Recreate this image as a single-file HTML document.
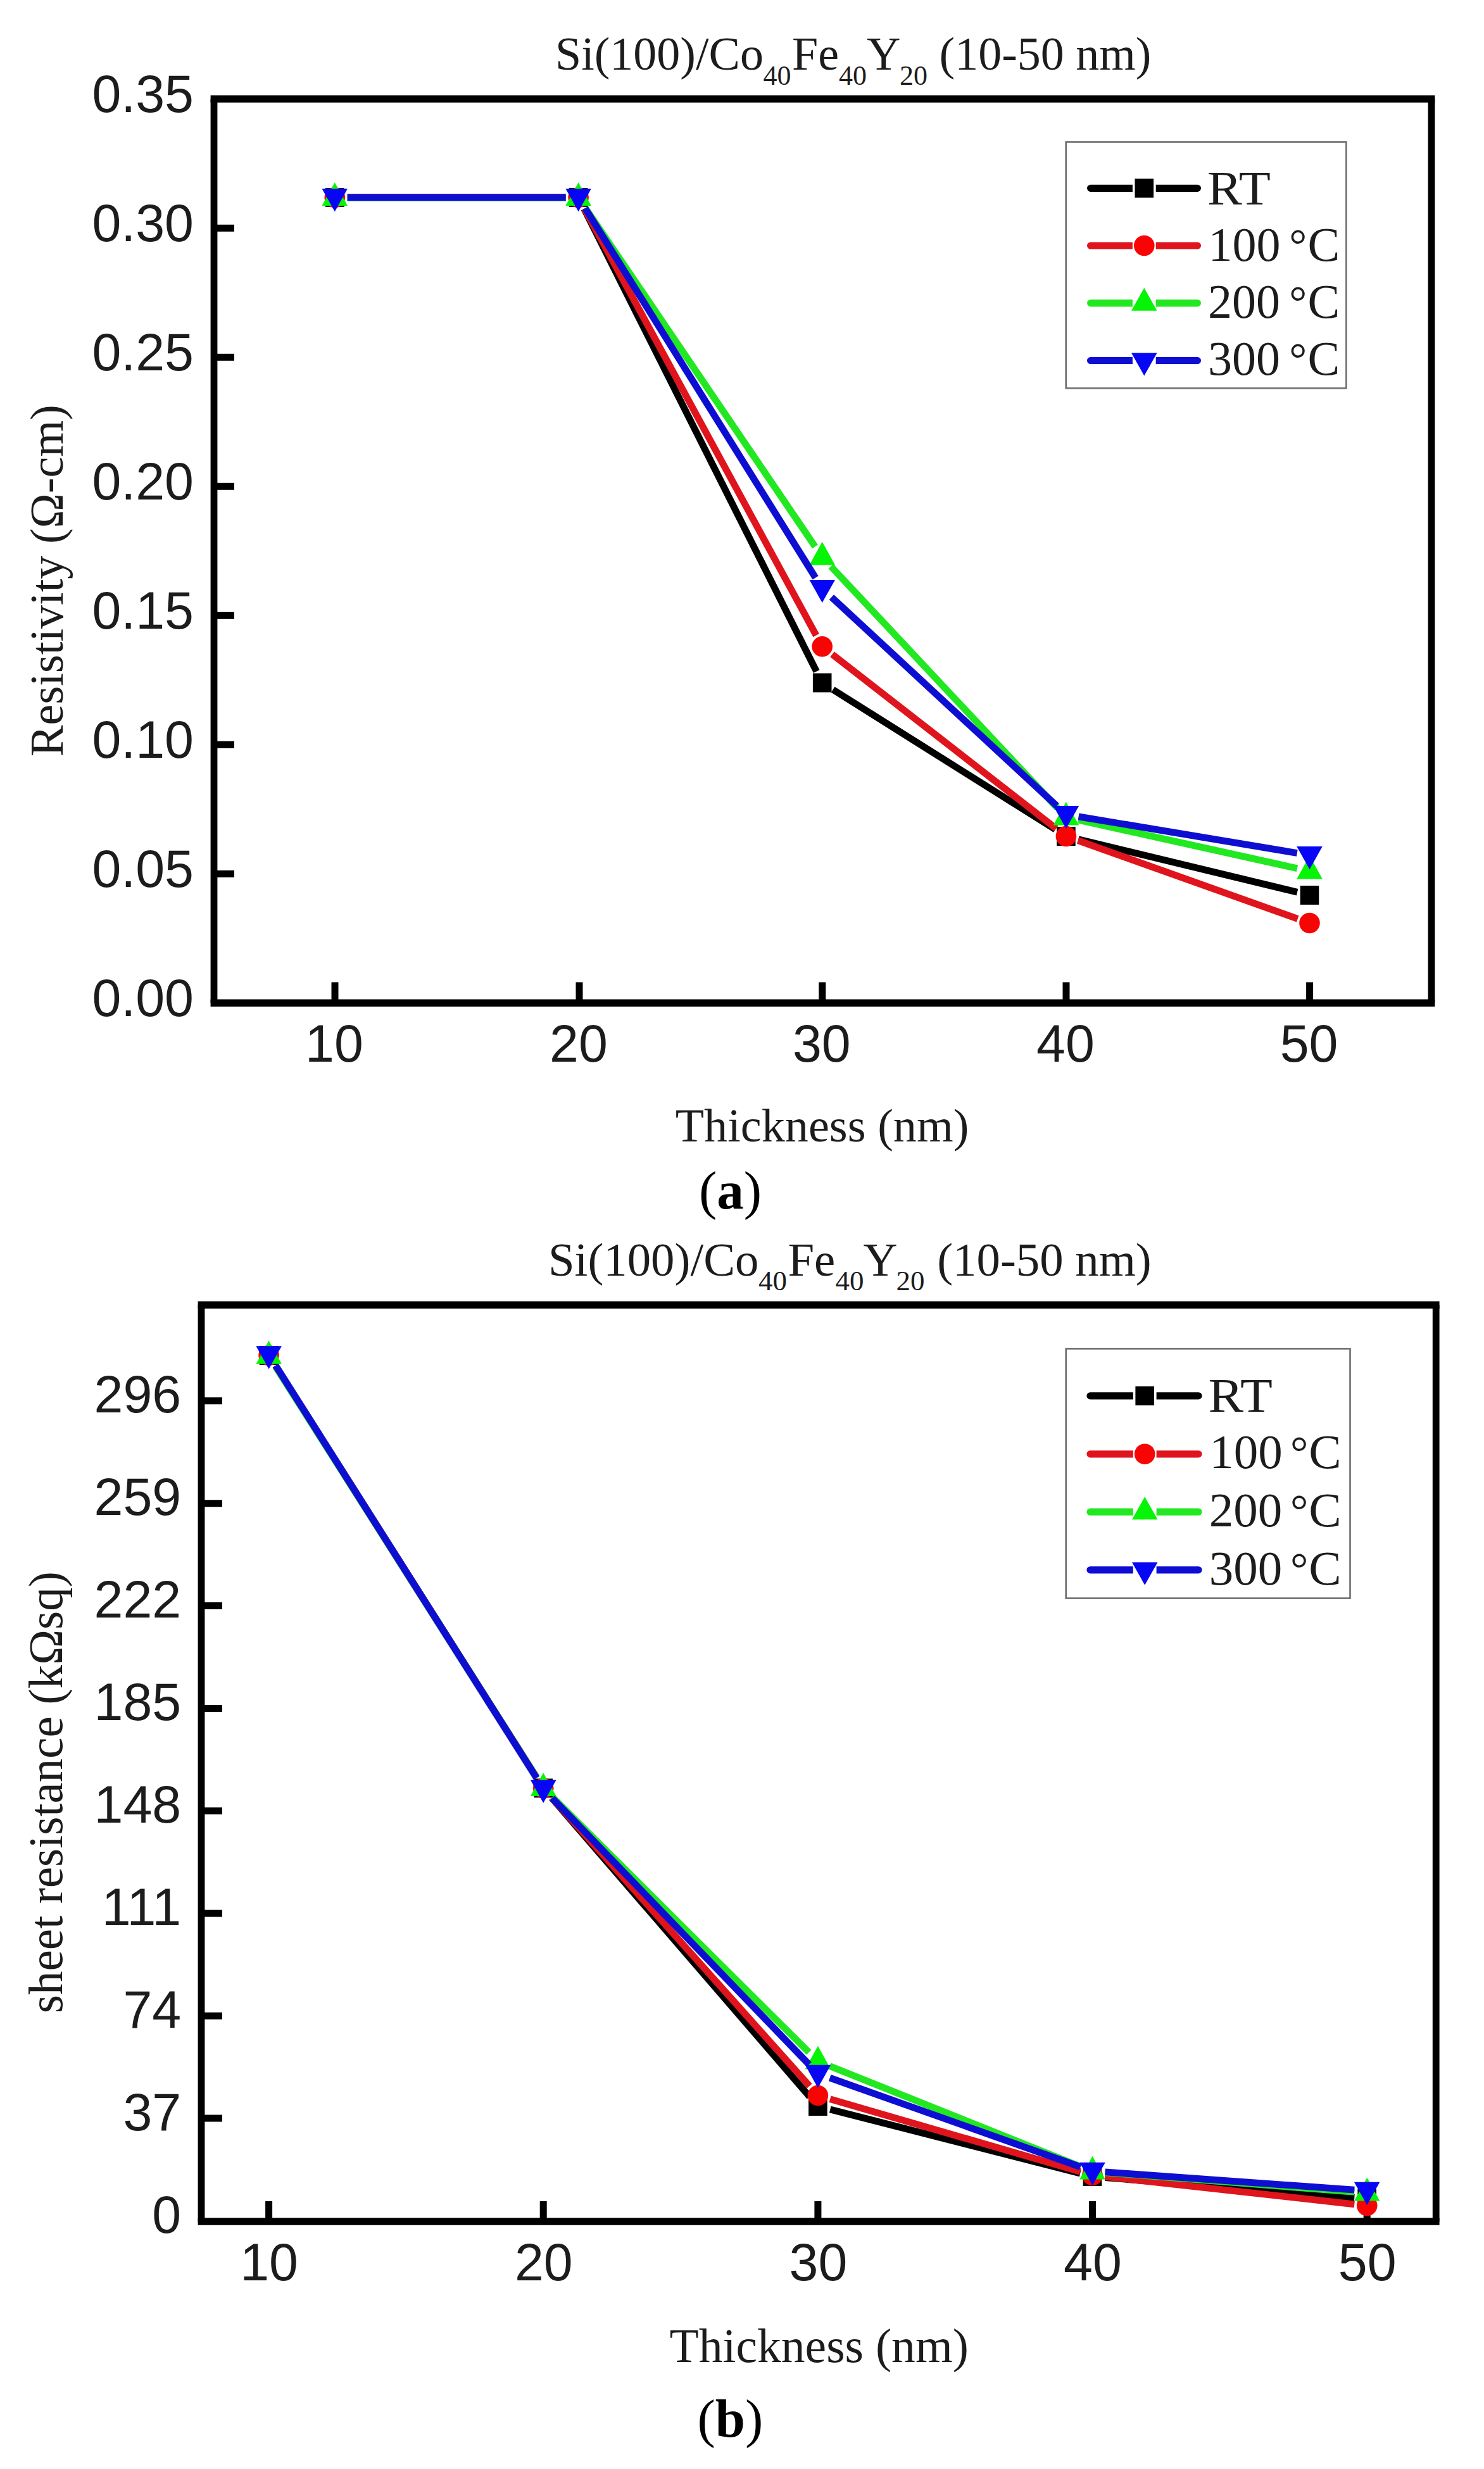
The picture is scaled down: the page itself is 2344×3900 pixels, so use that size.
<!DOCTYPE html>
<html><head><meta charset="utf-8"><title>Resistivity and sheet resistance</title>
<style>html,body{margin:0;padding:0;background:#fff}svg{display:block}</style></head>
<body>
<svg width="2344" height="3900" viewBox="0 0 2344 3900">
<rect width="2344" height="3900" fill="#fff"/>
<path d="M332.60 156.30H2266.40M332.60 1584.30H2266.40" stroke="#000" stroke-width="11.6" fill="none"/><path d="M338.00 156.30V1584.30M2261.00 156.30V1584.30" stroke="#000" stroke-width="10.8" fill="none"/>
<text x="306" y="176.9" text-anchor="end" font-family='"Liberation Sans","DejaVu Sans",sans-serif' font-size="82.5" fill="#1c1c1c">0.35</text>
<line x1="338" y1="360.3" x2="370" y2="360.3" stroke="#000" stroke-width="11"/>
<text x="306" y="380.9" text-anchor="end" font-family='"Liberation Sans","DejaVu Sans",sans-serif' font-size="82.5" fill="#1c1c1c">0.30</text>
<line x1="338" y1="564.3" x2="370" y2="564.3" stroke="#000" stroke-width="11"/>
<text x="306" y="584.9" text-anchor="end" font-family='"Liberation Sans","DejaVu Sans",sans-serif' font-size="82.5" fill="#1c1c1c">0.25</text>
<line x1="338" y1="768.3" x2="370" y2="768.3" stroke="#000" stroke-width="11"/>
<text x="306" y="788.9" text-anchor="end" font-family='"Liberation Sans","DejaVu Sans",sans-serif' font-size="82.5" fill="#1c1c1c">0.20</text>
<line x1="338" y1="972.3" x2="370" y2="972.3" stroke="#000" stroke-width="11"/>
<text x="306" y="992.9" text-anchor="end" font-family='"Liberation Sans","DejaVu Sans",sans-serif' font-size="82.5" fill="#1c1c1c">0.15</text>
<line x1="338" y1="1176.3" x2="370" y2="1176.3" stroke="#000" stroke-width="11"/>
<text x="306" y="1196.9" text-anchor="end" font-family='"Liberation Sans","DejaVu Sans",sans-serif' font-size="82.5" fill="#1c1c1c">0.10</text>
<line x1="338" y1="1380.3" x2="370" y2="1380.3" stroke="#000" stroke-width="11"/>
<text x="306" y="1400.9" text-anchor="end" font-family='"Liberation Sans","DejaVu Sans",sans-serif' font-size="82.5" fill="#1c1c1c">0.05</text>
<text x="306" y="1604.9" text-anchor="end" font-family='"Liberation Sans","DejaVu Sans",sans-serif' font-size="82.5" fill="#1c1c1c">0.00</text>
<line x1="529.0" y1="1584.3" x2="529.0" y2="1551.5" stroke="#000" stroke-width="11"/>
<text x="528.0" y="1676.8" text-anchor="middle" font-family='"Liberation Sans","DejaVu Sans",sans-serif' font-size="82.5" fill="#1c1c1c">10</text>
<line x1="915.0" y1="1584.3" x2="915.0" y2="1551.5" stroke="#000" stroke-width="11"/>
<text x="914.0" y="1676.8" text-anchor="middle" font-family='"Liberation Sans","DejaVu Sans",sans-serif' font-size="82.5" fill="#1c1c1c">20</text>
<line x1="1298.8" y1="1584.3" x2="1298.8" y2="1551.5" stroke="#000" stroke-width="11"/>
<text x="1297.8" y="1676.8" text-anchor="middle" font-family='"Liberation Sans","DejaVu Sans",sans-serif' font-size="82.5" fill="#1c1c1c">30</text>
<line x1="1684.0" y1="1584.3" x2="1684.0" y2="1551.5" stroke="#000" stroke-width="11"/>
<text x="1683.0" y="1676.8" text-anchor="middle" font-family='"Liberation Sans","DejaVu Sans",sans-serif' font-size="82.5" fill="#1c1c1c">40</text>
<line x1="2068.6" y1="1584.3" x2="2068.6" y2="1551.5" stroke="#000" stroke-width="11"/>
<text x="2067.6" y="1676.8" text-anchor="middle" font-family='"Liberation Sans","DejaVu Sans",sans-serif' font-size="82.5" fill="#1c1c1c">50</text>
<line x1="548.8" y1="312.0" x2="893.6" y2="312.0" stroke="#000" stroke-width="10.8"/>
<line x1="922.6" y1="329.9" x2="1289.7" y2="1060.6" stroke="#000" stroke-width="10.8"/>
<line x1="1315.6" y1="1089.2" x2="1667.0" y2="1310.3" stroke="#000" stroke-width="10.8"/>
<line x1="1703.3" y1="1325.7" x2="2049.1" y2="1409.3" stroke="#000" stroke-width="10.8"/>
<rect x="514.0" y="297.0" width="29.6" height="30" fill="#000"/>
<rect x="898.8" y="297.0" width="29.6" height="30" fill="#000"/>
<rect x="1283.9" y="1063.5" width="29.6" height="30" fill="#000"/>
<rect x="1669.1" y="1306.0" width="29.6" height="30" fill="#000"/>
<rect x="2053.7" y="1399.0" width="29.6" height="30" fill="#000"/>
<line x1="548.8" y1="312.0" x2="893.6" y2="312.0" stroke="#e0141c" stroke-width="10.8"/>
<line x1="923.1" y1="329.6" x2="1289.2" y2="1003.7" stroke="#e0141c" stroke-width="10.8"/>
<line x1="1314.5" y1="1033.6" x2="1668.1" y2="1308.7" stroke="#e0141c" stroke-width="10.8"/>
<line x1="1702.7" y1="1327.7" x2="2049.7" y2="1451.3" stroke="#e0141c" stroke-width="10.8"/>
<circle cx="528.8" cy="312.0" r="16.3" fill="#f80404"/>
<circle cx="913.6" cy="312.0" r="16.3" fill="#f80404"/>
<circle cx="1298.7" cy="1021.3" r="16.3" fill="#f80404"/>
<circle cx="1683.9" cy="1321.0" r="16.3" fill="#f80404"/>
<circle cx="2068.5" cy="1458.0" r="16.3" fill="#f80404"/>
<line x1="548.8" y1="312.5" x2="893.6" y2="312.5" stroke="#22e822" stroke-width="10.8"/>
<line x1="924.8" y1="329.0" x2="1287.5" y2="863.5" stroke="#22e822" stroke-width="10.8"/>
<line x1="1312.4" y1="894.6" x2="1670.2" y2="1276.4" stroke="#22e822" stroke-width="10.8"/>
<line x1="1703.4" y1="1295.3" x2="2049.0" y2="1371.7" stroke="#22e822" stroke-width="10.8"/>
<polygon points="528.8,288.2 549.0,325.0 508.5,325.0" fill="#06f406"/>
<polygon points="913.6,288.2 933.9,325.0 893.4,325.0" fill="#06f406"/>
<polygon points="1298.7,855.7 1319.0,892.5 1278.5,892.5" fill="#06f406"/>
<polygon points="1683.9,1266.7 1704.2,1303.5 1663.7,1303.5" fill="#06f406"/>
<polygon points="2068.5,1351.7 2088.8,1388.5 2048.2,1388.5" fill="#06f406"/>
<line x1="548.8" y1="311.8" x2="893.6" y2="311.8" stroke="#0e0ed2" stroke-width="10.8"/>
<line x1="924.2" y1="328.8" x2="1288.1" y2="912.6" stroke="#0e0ed2" stroke-width="10.8"/>
<line x1="1313.4" y1="943.2" x2="1669.2" y2="1273.0" stroke="#0e0ed2" stroke-width="10.8"/>
<line x1="1703.6" y1="1289.9" x2="2048.8" y2="1347.5" stroke="#0e0ed2" stroke-width="10.8"/>
<polygon points="528.8,334.3 549.0,298.1 508.5,298.1" fill="#0606f4"/>
<polygon points="913.6,334.3 933.9,298.1 893.4,298.1" fill="#0606f4"/>
<polygon points="1298.7,952.1 1319.0,915.9 1278.5,915.9" fill="#0606f4"/>
<polygon points="1683.9,1309.1 1704.2,1272.9 1663.7,1272.9" fill="#0606f4"/>
<polygon points="2068.5,1373.3 2088.8,1337.1 2048.2,1337.1" fill="#0606f4"/>
<rect x="1683.7" y="224.4" width="442.7" height="388.8" fill="#fff" stroke="#6e6e6e" stroke-width="2.6"/>
<line x1="1722.6" y1="297.3" x2="1891.4" y2="297.3" stroke="#000" stroke-width="11.2" stroke-linecap="round"/>
<rect x="1788.9" y="289.3" width="36.8" height="16" fill="#fff"/>
<rect x="1792.5" y="282.3" width="29.6" height="30" fill="#000"/>
<text x="1906.9" y="322.5" font-family='"Liberation Serif","DejaVu Serif",serif' font-size="76" fill="#1c1c1c" textLength="100.0" lengthAdjust="spacingAndGlyphs">RT</text>
<line x1="1722.6" y1="388" x2="1891.4" y2="388" stroke="#e0141c" stroke-width="11.2" stroke-linecap="round"/>
<rect x="1788.9" y="380" width="36.8" height="16" fill="#fff"/>
<circle cx="1807.3" cy="388.0" r="16.3" fill="#f80404"/>
<text font-family='"Liberation Serif","DejaVu Serif",serif' font-size="76" fill="#1c1c1c"><tspan x="1908.5" y="412.0">100</tspan> <tspan x="2036.3" y="409.9" font-size="69.9">°</tspan><tspan x="2065.6" y="412.0">C</tspan></text>
<line x1="1722.6" y1="478.8" x2="1891.4" y2="478.8" stroke="#22e822" stroke-width="11.2" stroke-linecap="round"/>
<rect x="1788.9" y="470.8" width="36.8" height="16" fill="#fff"/>
<polygon points="1807.3,454.8 1827.5,490.8 1787.0,490.8" fill="#06f406"/>
<text font-family='"Liberation Serif","DejaVu Serif",serif' font-size="76" fill="#1c1c1c"><tspan x="1908.1" y="501.9">200</tspan> <tspan x="2036.3" y="499.8" font-size="69.9">°</tspan><tspan x="2065.6" y="501.9">C</tspan></text>
<line x1="1722.6" y1="569.5" x2="1891.4" y2="569.5" stroke="#0e0ed2" stroke-width="11.2" stroke-linecap="round"/>
<rect x="1788.9" y="561.5" width="36.8" height="16" fill="#fff"/>
<polygon points="1807.3,593.5 1827.5,557.5 1787.0,557.5" fill="#0606f4"/>
<text font-family='"Liberation Serif","DejaVu Serif",serif' font-size="76" fill="#1c1c1c"><tspan x="1908.1" y="591.8">300</tspan> <tspan x="2036.3" y="589.7" font-size="69.9">°</tspan><tspan x="2065.6" y="591.8">C</tspan></text>
<text font-family='"Liberation Serif","DejaVu Serif",serif' font-size="74" fill="#1c1c1c"><tspan x="877" y="110">Si(100)/Co</tspan><tspan x="1205.5" y="134" font-size="44">40</tspan><tspan x="1251" y="110">Fe</tspan><tspan x="1325" y="134" font-size="44">40</tspan><tspan x="1369" y="110">Y</tspan><tspan x="1421" y="134" font-size="44">20</tspan> <tspan x="1483.5" y="110">(10-50 nm)</tspan></text>
<text x="1066.8" y="1802.6" font-family='"Liberation Serif","DejaVu Serif",serif' font-size="74.2" fill="#1c1c1c">Thickness (nm)</text>
<text transform="translate(98.5,1195) rotate(-90)" font-family='"Liberation Serif","DejaVu Serif",serif' font-size="74.2" fill="#1c1c1c">Resistivity (Ω-cm)</text>
<text x="1104" y="1908.5" font-family='"Liberation Serif","DejaVu Serif",serif' font-size="85" fill="#000">(<tspan font-weight="bold">a</tspan>)</text>
<path d="M312.60 2061.30H2273.60M312.60 3509.00H2273.60" stroke="#000" stroke-width="11.6" fill="none"/><path d="M318.00 2061.30V3509.00M2268.20 2061.30V3509.00" stroke="#000" stroke-width="10.8" fill="none"/>
<text x="286.2" y="3526.6" text-anchor="end" font-family='"Liberation Sans","DejaVu Sans",sans-serif' font-size="82.5" fill="#1c1c1c">0</text>
<line x1="318" y1="3346.1" x2="351" y2="3346.1" stroke="#000" stroke-width="11"/>
<text x="286.2" y="3364.7" text-anchor="end" font-family='"Liberation Sans","DejaVu Sans",sans-serif' font-size="82.5" fill="#1c1c1c">37</text>
<line x1="318" y1="3184.2" x2="351" y2="3184.2" stroke="#000" stroke-width="11"/>
<text x="286.2" y="3202.8" text-anchor="end" font-family='"Liberation Sans","DejaVu Sans",sans-serif' font-size="82.5" fill="#1c1c1c">74</text>
<line x1="318" y1="3022.3" x2="351" y2="3022.3" stroke="#000" stroke-width="11"/>
<text x="286.2" y="3040.9" text-anchor="end" font-family='"Liberation Sans","DejaVu Sans",sans-serif' font-size="82.5" fill="#1c1c1c">111</text>
<line x1="318" y1="2860.4" x2="351" y2="2860.4" stroke="#000" stroke-width="11"/>
<text x="286.2" y="2879.0" text-anchor="end" font-family='"Liberation Sans","DejaVu Sans",sans-serif' font-size="82.5" fill="#1c1c1c">148</text>
<line x1="318" y1="2698.5" x2="351" y2="2698.5" stroke="#000" stroke-width="11"/>
<text x="286.2" y="2717.1" text-anchor="end" font-family='"Liberation Sans","DejaVu Sans",sans-serif' font-size="82.5" fill="#1c1c1c">185</text>
<line x1="318" y1="2536.6" x2="351" y2="2536.6" stroke="#000" stroke-width="11"/>
<text x="286.2" y="2555.2" text-anchor="end" font-family='"Liberation Sans","DejaVu Sans",sans-serif' font-size="82.5" fill="#1c1c1c">222</text>
<line x1="318" y1="2374.7" x2="351" y2="2374.7" stroke="#000" stroke-width="11"/>
<text x="286.2" y="2393.3" text-anchor="end" font-family='"Liberation Sans","DejaVu Sans",sans-serif' font-size="82.5" fill="#1c1c1c">259</text>
<line x1="318" y1="2212.8" x2="351" y2="2212.8" stroke="#000" stroke-width="11"/>
<text x="286.2" y="2231.4" text-anchor="end" font-family='"Liberation Sans","DejaVu Sans",sans-serif' font-size="82.5" fill="#1c1c1c">296</text>
<line x1="424.6" y1="3509" x2="424.6" y2="3477" stroke="#000" stroke-width="11"/>
<text x="425.1" y="3602.3" text-anchor="middle" font-family='"Liberation Sans","DejaVu Sans",sans-serif' font-size="82.5" fill="#1c1c1c">10</text>
<line x1="858.2" y1="3509" x2="858.2" y2="3477" stroke="#000" stroke-width="11"/>
<text x="858.8" y="3602.3" text-anchor="middle" font-family='"Liberation Sans","DejaVu Sans",sans-serif' font-size="82.5" fill="#1c1c1c">20</text>
<line x1="1291.9" y1="3509" x2="1291.9" y2="3477" stroke="#000" stroke-width="11"/>
<text x="1292.4" y="3602.3" text-anchor="middle" font-family='"Liberation Sans","DejaVu Sans",sans-serif' font-size="82.5" fill="#1c1c1c">30</text>
<line x1="1725.5" y1="3509" x2="1725.5" y2="3477" stroke="#000" stroke-width="11"/>
<text x="1726.0" y="3602.3" text-anchor="middle" font-family='"Liberation Sans","DejaVu Sans",sans-serif' font-size="82.5" fill="#1c1c1c">40</text>
<line x1="2159.2" y1="3509" x2="2159.2" y2="3477" stroke="#000" stroke-width="11"/>
<text x="2159.7" y="3602.3" text-anchor="middle" font-family='"Liberation Sans","DejaVu Sans",sans-serif' font-size="82.5" fill="#1c1c1c">50</text>
<line x1="435.3" y1="2157.9" x2="847.5" y2="2807.6" stroke="#000" stroke-width="10.8"/>
<line x1="871.3" y1="2839.6" x2="1278.8" y2="3311.9" stroke="#000" stroke-width="10.8"/>
<line x1="1311.3" y1="3332.0" x2="1706.2" y2="3433.0" stroke="#000" stroke-width="10.8"/>
<line x1="1745.5" y1="3439.6" x2="2139.3" y2="3471.4" stroke="#000" stroke-width="10.8"/>
<rect x="409.8" y="2126.0" width="29.6" height="30" fill="#000"/>
<rect x="843.5" y="2809.5" width="29.6" height="30" fill="#000"/>
<rect x="1277.1" y="3312.0" width="29.6" height="30" fill="#000"/>
<rect x="1710.7" y="3423.0" width="29.6" height="30" fill="#000"/>
<rect x="2144.4" y="3458.0" width="29.6" height="30" fill="#000"/>
<line x1="435.3" y1="2157.9" x2="847.5" y2="2807.6" stroke="#e0141c" stroke-width="10.8"/>
<line x1="871.6" y1="2839.4" x2="1278.6" y2="3295.1" stroke="#e0141c" stroke-width="10.8"/>
<line x1="1311.1" y1="3315.6" x2="1706.3" y2="3430.4" stroke="#e0141c" stroke-width="10.8"/>
<line x1="1745.4" y1="3438.2" x2="2139.3" y2="3481.8" stroke="#e0141c" stroke-width="10.8"/>
<circle cx="424.6" cy="2141.0" r="16.3" fill="#f80404"/>
<circle cx="858.2" cy="2824.5" r="16.3" fill="#f80404"/>
<circle cx="1291.9" cy="3310.0" r="16.3" fill="#f80404"/>
<circle cx="1725.5" cy="3436.0" r="16.3" fill="#f80404"/>
<circle cx="2159.2" cy="3484.0" r="16.3" fill="#f80404"/>
<line x1="435.3" y1="2158.9" x2="847.5" y2="2807.6" stroke="#22e822" stroke-width="10.8"/>
<line x1="872.4" y1="2838.6" x2="1277.7" y2="3241.9" stroke="#22e822" stroke-width="10.8"/>
<line x1="1310.5" y1="3263.4" x2="1707.0" y2="3422.6" stroke="#22e822" stroke-width="10.8"/>
<line x1="1745.5" y1="3431.6" x2="2139.3" y2="3462.4" stroke="#22e822" stroke-width="10.8"/>
<polygon points="424.6,2117.7 444.9,2154.5 404.4,2154.5" fill="#06f406"/>
<polygon points="858.2,2800.2 878.5,2837.0 838.0,2837.0" fill="#06f406"/>
<polygon points="1291.9,3231.7 1312.2,3268.5 1271.7,3268.5" fill="#06f406"/>
<polygon points="1725.5,3405.7 1745.8,3442.5 1705.3,3442.5" fill="#06f406"/>
<polygon points="2159.2,3439.7 2179.4,3476.5 2138.9,3476.5" fill="#06f406"/>
<line x1="435.3" y1="2156.9" x2="847.6" y2="2808.6" stroke="#0e0ed2" stroke-width="10.8"/>
<line x1="872.1" y1="2839.9" x2="1278.0" y2="3261.1" stroke="#0e0ed2" stroke-width="10.8"/>
<line x1="1310.7" y1="3282.2" x2="1706.7" y2="3422.8" stroke="#0e0ed2" stroke-width="10.8"/>
<line x1="1745.5" y1="3430.9" x2="2139.3" y2="3459.1" stroke="#0e0ed2" stroke-width="10.8"/>
<polygon points="424.6,2162.5 444.9,2126.3 404.4,2126.3" fill="#0606f4"/>
<polygon points="858.2,2848.0 878.5,2811.8 838.0,2811.8" fill="#0606f4"/>
<polygon points="1291.9,3298.0 1312.2,3261.8 1271.7,3261.8" fill="#0606f4"/>
<polygon points="1725.5,3452.0 1745.8,3415.8 1705.3,3415.8" fill="#0606f4"/>
<polygon points="2159.2,3483.0 2179.4,3446.8 2138.9,3446.8" fill="#0606f4"/>
<rect x="1683.7" y="2130.4" width="448.8" height="394.2" fill="#fff" stroke="#6e6e6e" stroke-width="2.6"/>
<line x1="1722" y1="2204.8" x2="1893" y2="2204.8" stroke="#000" stroke-width="11.2" stroke-linecap="round"/>
<rect x="1789.8" y="2196.8" width="36.8" height="16" fill="#fff"/>
<rect x="1793.4" y="2189.8" width="29.6" height="30" fill="#000"/>
<text x="1908.6" y="2229.7" font-family='"Liberation Serif","DejaVu Serif",serif' font-size="77" fill="#1c1c1c" textLength="101.4" lengthAdjust="spacingAndGlyphs">RT</text>
<line x1="1722" y1="2296.8" x2="1893" y2="2296.8" stroke="#e0141c" stroke-width="11.2" stroke-linecap="round"/>
<rect x="1789.8" y="2288.8" width="36.8" height="16" fill="#fff"/>
<circle cx="1808.2" cy="2296.8" r="16.3" fill="#f80404"/>
<text font-family='"Liberation Serif","DejaVu Serif",serif' font-size="77" fill="#1c1c1c"><tspan x="1910.2" y="2319.3">100</tspan> <tspan x="2038.0" y="2317.2" font-size="70.8">°</tspan><tspan x="2067.3" y="2319.3">C</tspan></text>
<line x1="1722" y1="2388.2" x2="1893" y2="2388.2" stroke="#22e822" stroke-width="11.2" stroke-linecap="round"/>
<rect x="1789.8" y="2380.2" width="36.8" height="16" fill="#fff"/>
<polygon points="1808.2,2364.2 1828.5,2400.2 1788.0,2400.2" fill="#06f406"/>
<text font-family='"Liberation Serif","DejaVu Serif",serif' font-size="77" fill="#1c1c1c"><tspan x="1909.8" y="2411.3">200</tspan> <tspan x="2038.0" y="2409.2" font-size="70.8">°</tspan><tspan x="2067.3" y="2411.3">C</tspan></text>
<line x1="1722" y1="2479.8" x2="1893" y2="2479.8" stroke="#0e0ed2" stroke-width="11.2" stroke-linecap="round"/>
<rect x="1789.8" y="2471.8" width="36.8" height="16" fill="#fff"/>
<polygon points="1808.2,2503.8 1828.5,2467.8 1788.0,2467.8" fill="#0606f4"/>
<text font-family='"Liberation Serif","DejaVu Serif",serif' font-size="77" fill="#1c1c1c"><tspan x="1909.8" y="2503.3">300</tspan> <tspan x="2038.0" y="2501.2" font-size="70.8">°</tspan><tspan x="2067.3" y="2503.3">C</tspan></text>
<text font-family='"Liberation Serif","DejaVu Serif",serif' font-size="74.8" fill="#1c1c1c"><tspan x="866" y="2014.5">Si(100)/Co</tspan><tspan x="1198" y="2038" font-size="45">40</tspan><tspan x="1244.5" y="2014.5">Fe</tspan><tspan x="1319.5" y="2038" font-size="45">40</tspan><tspan x="1363.5" y="2014.5">Y</tspan><tspan x="1415.5" y="2038" font-size="45">20</tspan> <tspan x="1480.2" y="2014.5">(10-50 nm)</tspan></text>
<text x="1057.5" y="3730.7" font-family='"Liberation Serif","DejaVu Serif",serif' font-size="75.6" fill="#1c1c1c">Thickness (nm)</text>
<text transform="translate(98,3180.3) rotate(-90)" font-family='"Liberation Serif","DejaVu Serif",serif' font-size="75.1" fill="#1c1c1c">sheet resistance (kΩsq)</text>
<text x="1101.5" y="3848.5" font-family='"Liberation Serif","DejaVu Serif",serif' font-size="85" fill="#000">(<tspan font-weight="bold">b</tspan>)</text>
</svg>
</body></html>
